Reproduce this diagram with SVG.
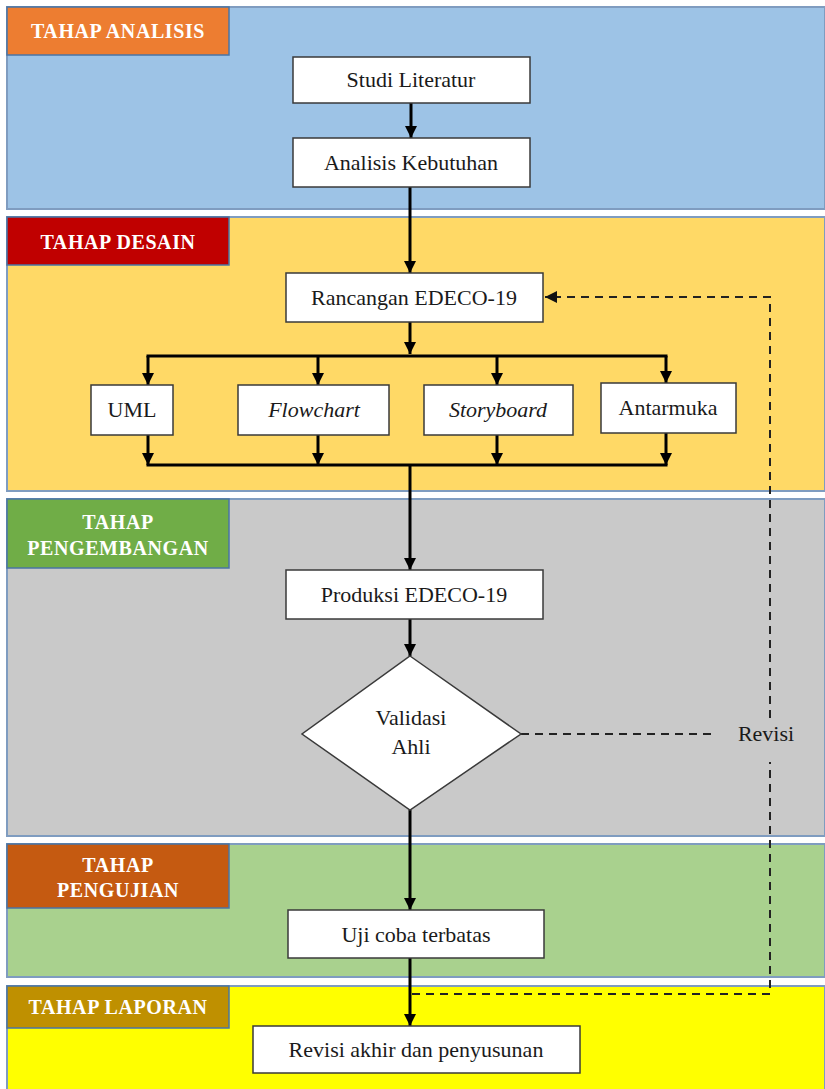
<svg xmlns="http://www.w3.org/2000/svg" width="825" height="1089" viewBox="0 0 825 1089">
<style>
.band{stroke:#7f9cc0;stroke-width:2}
.lab{stroke:#4a74a4;stroke-width:1.5}
.labt{font-family:'Liberation Serif','Times New Roman','DejaVu Serif',serif;font-weight:bold;font-size:20px;letter-spacing:0.6px;fill:#fff;text-anchor:middle}
.box{fill:#fff;stroke:#3a3a3a;stroke-width:1.5}
.t{font-family:'Liberation Serif','Times New Roman','DejaVu Serif',serif;font-size:22px;fill:#1a1a1a;text-anchor:middle}
.ln{fill:none;stroke:#000;stroke-width:3}
.dash{fill:none;stroke:#222;stroke-width:2;stroke-dasharray:8 6}
</style>
<defs>
<marker id="ah" viewBox="0 0 10 10" refX="10" refY="5" markerWidth="4" markerHeight="4" markerUnits="strokeWidth" orient="auto"><path d="M0,0 L10,5 L0,10 z" fill="#000"/></marker>
<marker id="ahd" viewBox="0 0 10 10" refX="10" refY="5" markerWidth="6" markerHeight="6" markerUnits="strokeWidth" orient="auto"><path d="M0,0 L10,5 L0,10 z" fill="#111"/></marker>
</defs>
<rect width="825" height="1089" fill="#fff"/>
<g id="bands">
<rect class="band" x="7" y="7" width="818" height="202" fill="#9dc3e6"/>
<rect class="band" x="7" y="217" width="818" height="274" fill="#ffd966"/>
<rect class="band" x="7" y="499" width="818" height="337" fill="#c9c9c9"/>
<rect class="band" x="7" y="844" width="818" height="133" fill="#a9d18e"/>
<rect class="band" x="7" y="986" width="818" height="110" fill="#ffff00"/>
</g>
<g id="label-analisis"><rect class="lab" x="7" y="7" width="222" height="48" fill="#ed7d31"/><text class="labt" x="118" y="38">TAHAP ANALISIS</text></g>
<g id="label-desain"><rect class="lab" x="7" y="217" width="222" height="48" fill="#c00000"/><text class="labt" x="118" y="249">TAHAP DESAIN</text></g>
<g id="label-pengembangan"><rect class="lab" x="7" y="499" width="222" height="69" fill="#70ad47"/><text class="labt" x="118" y="529">TAHAP</text><text class="labt" x="118" y="555">PENGEMBANGAN</text></g>
<g id="label-pengujian"><rect class="lab" x="7" y="844" width="222" height="64" fill="#c55a11"/><text class="labt" x="118" y="872">TAHAP</text><text class="labt" x="118" y="897">PENGUJIAN</text></g>
<g id="label-laporan"><rect class="lab" x="7" y="986" width="222" height="42" fill="#bf9000"/><text class="labt" x="118" y="1014">TAHAP LAPORAN</text></g>
<g id="connectors">
<path class="ln" d="M411,103 V138" marker-end="url(#ah)"/>
<path class="ln" d="M410,187 V273" marker-end="url(#ah)"/>
<path class="ln" d="M410,322 V354" marker-end="url(#ah)"/>
<path class="ln" d="M146.5,356 H667.5"/>
<path class="ln" d="M148,356 V385" marker-end="url(#ah)"/>
<path class="ln" d="M318,356 V385" marker-end="url(#ah)"/>
<path class="ln" d="M497,356 V385" marker-end="url(#ah)"/>
<path class="ln" d="M666,356 V383" marker-end="url(#ah)"/>
<path class="ln" d="M148,435 V465" marker-end="url(#ah)"/>
<path class="ln" d="M318,435 V465" marker-end="url(#ah)"/>
<path class="ln" d="M497,435 V465" marker-end="url(#ah)"/>
<path class="ln" d="M666,433 V465" marker-end="url(#ah)"/>
<path class="ln" d="M146.5,465 H667.5"/>
<path class="ln" d="M410,465 V570" marker-end="url(#ah)"/>
<path class="ln" d="M410,619 V656" marker-end="url(#ah)"/>
<path class="ln" d="M410,810 V910" marker-end="url(#ah)"/>
<path class="ln" d="M410,958 V1026" marker-end="url(#ah)"/>
<path class="dash" d="M521,734 H715"/>
<path class="dash" d="M412,994 H770 V762"/>
<path class="dash" d="M770,718 V297 H545" marker-end="url(#ahd)"/>
<text class="t" x="766" y="741">Revisi</text>
</g>
<g id="studi"><rect class="box" x="293" y="57" width="237" height="46"/><text class="t" x="411" y="87">Studi Literatur</text></g>
<g id="analisis"><rect class="box" x="293" y="138" width="237" height="49"/><text class="t" x="411" y="170">Analisis Kebutuhan</text></g>
<g id="rancangan"><rect class="box" x="286" y="273" width="257" height="49"/><text class="t" x="414" y="305">Rancangan EDECO-19</text></g>
<g id="uml"><rect class="box" x="91" y="385" width="82" height="50"/><text class="t" x="132" y="417">UML</text></g>
<g id="flowchart"><rect class="box" x="238" y="385" width="151" height="50"/><text class="t" x="314" y="417" font-style="italic">Flowchart</text></g>
<g id="storyboard"><rect class="box" x="424" y="385" width="149" height="50"/><text class="t" x="498" y="417" font-style="italic">Storyboard</text></g>
<g id="antarmuka"><rect class="box" x="601" y="383" width="135" height="50"/><text class="t" x="668" y="415">Antarmuka</text></g>
<g id="produksi"><rect class="box" x="286" y="570" width="257" height="49"/><text class="t" x="414" y="602">Produksi EDECO-19</text></g>
<g id="validasi"><path class="box" d="M410,656 L521,734 L410,810 L302,734 z"/><text class="t" x="411" y="725">Validasi</text><text class="t" x="411" y="754">Ahli</text></g>
<g id="ujicoba"><rect class="box" x="288" y="910" width="256" height="48"/><text class="t" x="416" y="942">Uji coba terbatas</text></g>
<g id="revisiakhir"><rect class="box" x="253" y="1026" width="327" height="47"/><text class="t" x="416" y="1057">Revisi akhir dan penyusunan</text></g>
</svg>
